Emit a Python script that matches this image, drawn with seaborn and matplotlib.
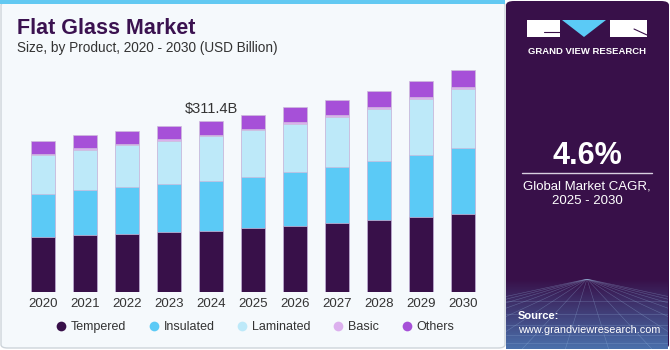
import numpy as np
import pandas as pd
import matplotlib
matplotlib.use('Agg')
import matplotlib.pyplot as plt
import seaborn as sns
from matplotlib.patches import FancyBboxPatch, Rectangle, Polygon
from matplotlib.lines import Line2D

sns.set_style('white')
plt.rcParams['font.family'] = ['Liberation Sans', 'DejaVu Sans']

# values (USD Billion)
years = ['2020', '2021', '2022', '2023', '2024', '2025', '2026', '2027', '2028', '2029', '2030']
tempered = [100.3, 104.0, 106.3, 109.4, 111.3, 116.2, 120.4, 125.9, 131.3, 137.3, 143.0]
insulated = [78.4, 82.1, 84.6, 87.6, 91.2, 94.3, 98.5, 102.1, 108.2, 113.1, 119.7]
laminated = [71.7, 73.5, 77.2, 79.0, 81.5, 84.5, 87.6, 91.9, 94.9, 101.0, 107.6]
basic = [1.8, 2.4, 2.4, 2.6, 2.4, 1.8, 2.6, 2.4, 2.6, 3.6, 3.6]
others = [23.2, 24.3, 23.2, 24.3, 25.0, 26.8, 27.4, 28.6, 29.7, 29.7, 31.0]

segments = ['Tempered', 'Insulated', 'Laminated', 'Basic', 'Others']
colors = ['#381049', '#5bcaf6', '#bde9f9', '#dcb0ee', '#a650d8']
label_year = '2024'
label_text = '$311.4B'

W, H = 670, 350


def px(x, y):
    return x / W, 1 - y / H


fig = plt.figure(figsize=(W / 100, H / 100), dpi=100)
fig.patch.set_facecolor('white')

# panels (kept behind the axes)
fig.patches.append(FancyBboxPatch(px(1, 348), 504 / W, 346 / H, boxstyle='round,pad=0,rounding_size=0.01',
                                  transform=fig.transFigure, facecolor='#f5f9fc', edgecolor='#cdd4da', lw=1,
                                  zorder=-10))
fig.patches.append(Rectangle(px(0, 4), 505 / W, 4 / H, transform=fig.transFigure,
                             facecolor='#62c9f2', edgecolor='none', zorder=-9))
fig.patches.append(FancyBboxPatch(px(506, 349), 163 / W, 348 / H, boxstyle='round,pad=0,rounding_size=0.012',
                                  transform=fig.transFigure, facecolor='#381049', edgecolor='none', zorder=-10))

# gradient at bottom of the right panel
gax = fig.add_axes([506 / W, 1 / H, 162 / W, 70 / H])
grad = np.linspace(0, 1, 100)[:, None]
cmap = matplotlib.colors.LinearSegmentedColormap.from_list('g', ['#4a70ab', '#381049'])
gax.imshow(grad, aspect='auto', cmap=cmap, origin='lower', extent=[0, 1, 0, 1])
for k in np.linspace(-1.5, 2.5, 16):
    gax.plot([0.5, k], [1.0, 0], color='#9fc2e6', lw=0.4, alpha=0.35)
for yy in [0.08, 0.2, 0.34, 0.5, 0.68]:
    gax.axhline(yy, color='#9fc2e6', lw=0.4, alpha=0.35)
gax.set_xlim(0, 1)
gax.set_ylim(0, 1)
gax.axis('off')

# main chart
ax = fig.add_axes([22 / W, 58 / H, 462 / W, 232 / H])
ax.set_facecolor('none')
layers = [tempered, insulated, laminated, basic, others]
cum = np.cumsum(np.array(layers), axis=0)
for i in range(len(segments) - 1, -1, -1):
    df = pd.DataFrame({'year': years, 'value': cum[i]})
    sns.barplot(data=df, x='year', y='value', order=years, color=colors[i], saturation=1,
                width=0.55, edgecolor='#cdbbdc', linewidth=0.5, ax=ax)
ax.set_xlim(-0.5, len(years) - 0.5)
ax.set_ylim(0, 423)
ax.set_xlabel('')
ax.set_ylabel('')
ax.set_yticks([])
ax.tick_params(axis='x', length=0, labelsize=9.5, labelcolor='#333333', pad=4)
sns.despine(ax=ax, left=True, bottom=True)

li = years.index(label_year)
ax.text(li, cum[-1][li] + 10, label_text, ha='center', va='bottom', fontsize=10.5, color='#333333')

# titles
fig.text(*px(17, 29), 'Flat Glass Market', fontsize=15.5, fontweight='bold', color='#3b1250', va='center')
fig.text(*px(17, 48), 'Size, by Product, 2020 - 2030 (USD Billion)', fontsize=9.8, color='#333333', va='center')

# legend
handles = [Line2D([], [], marker='o', linestyle='none', markersize=7, markerfacecolor=c, markeredgecolor='none')
           for c in colors]
fig.legend(handles, segments, loc='center', bbox_to_anchor=px(254, 327), ncol=5, frameon=False,
           fontsize=9, handletextpad=0.2, columnspacing=1.6, handlelength=1.2, labelcolor='#333333')

# logo
fig.patches.append(Rectangle(px(527, 37), 33 / W, 17 / H, transform=fig.transFigure, facecolor='white', edgecolor='none'))
fig.patches.append(Rectangle(px(610, 37), 37 / W, 17 / H, transform=fig.transFigure, facecolor='white', edgecolor='none'))
fig.patches.append(Polygon([px(562, 20), px(606, 20), px(584, 37)], closed=True, transform=fig.transFigure,
                           facecolor='#5bcaf6', edgecolor='none'))
fig.lines.append(Line2D([px(544, 0)[0], px(560, 0)[0]], [px(0, 32)[1]] * 2, transform=fig.transFigure,
                        color='#381049', lw=0.8))
fig.lines.append(Line2D([px(634, 0)[0], px(647, 0)[0]], [px(0, 29)[1], px(0, 35)[1]], transform=fig.transFigure,
                        color='#381049', lw=0.8))
fig.text(*px(587, 51), 'GRAND VIEW RESEARCH', fontsize=6.8, fontweight='bold', color='white',
         ha='center', va='center')

# CAGR box
fig.text(*px(587, 156), '4.6%', fontsize=22, fontweight='bold', color='white', ha='center', va='center')
fig.lines.append(Line2D([px(522, 0)[0], px(652, 0)[0]], [px(0, 173)[1]] * 2, transform=fig.transFigure,
                        color='#d8d0e0', lw=1))
fig.text(*px(587, 186), 'Global Market CAGR,', fontsize=9.5, color='white', ha='center', va='center')
fig.text(*px(587, 201), '2025 - 2030', fontsize=9.5, color='white', ha='center', va='center')

fig.text(*px(518, 316), 'Source:', fontsize=8, fontweight='bold', color='white', va='center')
fig.text(*px(518, 330), 'www.grandviewresearch.com', fontsize=7.8, color='white', va='center')

fig.savefig('out.png', dpi=100, facecolor=fig.get_facecolor())
